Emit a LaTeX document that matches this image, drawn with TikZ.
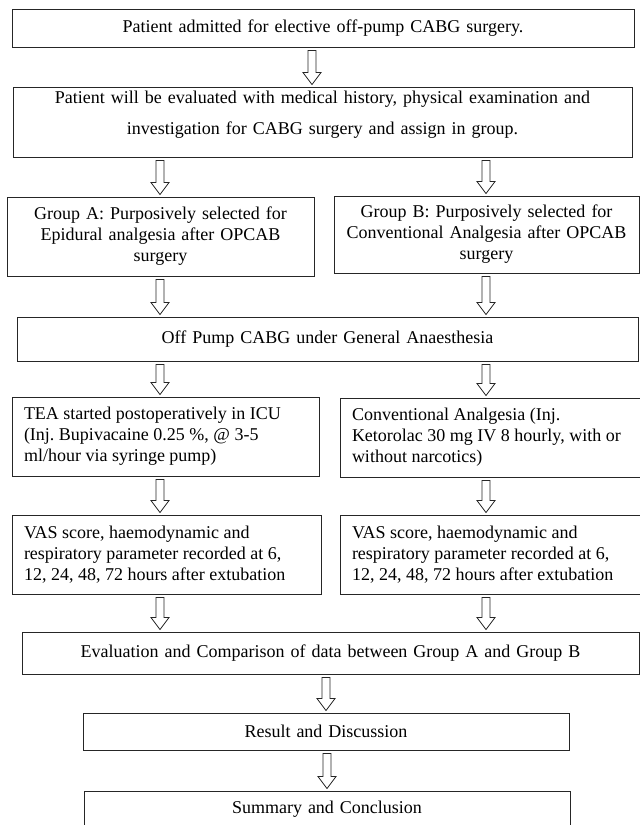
\documentclass[tikz,border=0pt]{standalone}
\usepackage{fontspec}
\setmainfont{Liberation Serif}
\usetikzlibrary{positioning, calc}

% hollow block arrow: x and start from #1, tip at the y of #2
\newcommand{\hollowarrow}[2]{%
  \draw[hollow] let \p1=#1, \p2=#2 in
    (\x1-4pt,\y1-3pt) -- (\x1-4pt,\y2+14pt) -- (\x1-9pt,\y2+14pt) -- (\x1,\y2+2pt)
    -- (\x1+9pt,\y2+14pt) -- (\x1+4pt,\y2+14pt) -- (\x1+4pt,\y1-3pt) -- cycle;}

\begin{document}
\frenchspacing
\begin{tikzpicture}[x=1pt,y=-1pt,
    box/.style={draw=black!85, line width=0.9pt, inner xsep=12pt, inner ysep=0pt,
      align=center, font=\fontsize{18}{21}\selectfont},
    leftbox/.style={box, align=flush left},
    hollow/.style={draw=black!85, line width=0.8pt, fill=white}]
  \useasboundingbox (0,0) rectangle (640,825);
  \clip (0,0) rectangle (640,825);
  \coordinate (colA) at (160,0);%left column
  \coordinate (colB) at (486,0);%right column

  \node[box, text width=598pt, minimum height=38pt] (admit) at (323,28)
    {Patient admitted for elective off-pump CABG surgery.};
  \node[box, text width=595pt, minimum height=70pt, text depth=50pt,
        font=\fontsize{18}{31}\selectfont] (evalpt) at (322.5,122)
    {Patient will be evaluated with medical history, physical examination and\\
     investigation for CABG surgery and assign in group.};
  \node[box, text width=283pt, minimum height=79pt] (grpA) at (160.5,236.5)
    {Group A: Purposively selected for\\ Epidural analgesia after OPCAB\\ surgery};
  \node[box, text width=281pt, minimum height=77pt] (grpB) at (486.5,234.5)
    {Group B: Purposively selected for\\ Conventional Analgesia after OPCAB\\ surgery};
  \node[box, text width=597pt, minimum height=44pt] (opcab) at (327.5,339)
    {Off Pump CABG under General Anaesthesia};
  \node[leftbox, text width=283pt, minimum height=79pt] (tea) at (165.5,436.5)
    {TEA started postoperatively in ICU\\ (Inj. Bupivacaine 0.25 \%, @ 3-5\\ ml/hour via syringe pump)};
  \node[leftbox, text width=279pt, minimum height=79pt] (conv) at (491.5,437.5)
    {Conventional Analgesia (Inj.\\ \mbox{Ketorolac 30 mg IV 8 hourly, with or}\\ without narcotics)};
  \node[leftbox, text width=285pt, minimum height=79pt] (vasA) at (166.5,554.5)
    {VAS score, haemodynamic and\\ respiratory parameter recorded at 6,\\ 12, 24, 48, 72 hours after extubation};
  \node[leftbox, text width=279pt, minimum height=79pt] (vasB) at (491.5,554.5)
    {VAS score, haemodynamic and\\ respiratory parameter recorded at 6,\\ 12, 24, 48, 72 hours after extubation};
  \node[box, text width=593pt, minimum height=42pt] (compare) at (330.5,653)
    {Evaluation and Comparison of data between Group A and Group B};
  \node[box, text width=462pt, minimum height=37pt] (result) at (326,731.5)
    {Result and Discussion};
  \node[box, text width=462pt, minimum height=37pt] (summary) at (327,809.5)
    {Summary and Conclusion};

  % arrows
  \hollowarrow{($(admit.south)+(-11,0)$)}{(evalpt.north)}
  \hollowarrow{(evalpt.south -| colA)}{(grpA.north)}
  \hollowarrow{(evalpt.south -| colB)}{(grpB.north)}
  \hollowarrow{(grpA.south -| colA)}{(opcab.north)}
  \hollowarrow{(grpB.south -| colB)}{(opcab.north)}
  \hollowarrow{(opcab.south -| colA)}{(tea.north)}
  \hollowarrow{(opcab.south -| colB)}{(conv.north)}
  \hollowarrow{(tea.south -| colA)}{(vasA.north)}
  \hollowarrow{(conv.south -| colB)}{(vasB.north)}
  \hollowarrow{(vasA.south -| colA)}{(compare.north)}
  \hollowarrow{(vasB.south -| colB)}{(compare.north)}
  \hollowarrow{(compare.south -| result.north)}{(result.north)}
  \hollowarrow{(result.south -| summary.north)}{(summary.north)}
\end{tikzpicture}
\end{document}
